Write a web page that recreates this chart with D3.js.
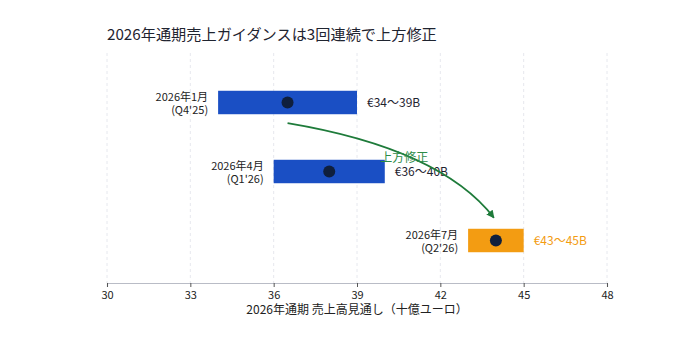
<!DOCTYPE html>
<html>
<head>
<meta charset="utf-8">
<script src="https://cdn.jsdelivr.net/npm/d3@7"></script>
<style>
  body { margin: 0; background: #fff; }
  text { font-family: "Noto Sans CJK JP", "Noto Sans", sans-serif; }
</style>
</head>
<body>
<div id="chart"></div>
<script>
// data
var periods = ["2026年1月", "2026年4月", "2026年7月"];
var quarters = ["(Q4'25)", "(Q1'26)", "(Q2'26)"];
var lows = [34, 36, 43];
var highs = [39, 40, 45];
var mids = [36.5, 38, 44];
var rangeLabels = ["€34～39B", "€36～40B", "€43～45B"];
var xTicks = [30, 33, 36, 39, 42, 45, 48];

var width = 675, height = 337;
var margin = { top: 53, right: 68, bottom: 54, left: 107 };

var svg = d3.select("#chart").append("svg")
  .attr("width", width)
  .attr("height", height);

var x = d3.scaleLinear()
  .domain([30, 48])
  .range([margin.left, width - margin.right]);

var y = d3.scaleBand()
  .domain(periods)
  .range([68, 275])
  .paddingInner(0.66)
  .paddingOuter(0.33);

var axisY = height - margin.bottom;

// title
svg.append("text")
  .attr("x", margin.left)
  .attr("y", 40)
  .attr("font-size", 15.2)
  .attr("fill", "#1f2430")
  .text("2026年通期売上ガイダンスは3回連続で上方修正");

// grid
svg.append("g").selectAll("line")
  .data(xTicks)
  .enter().append("line")
  .attr("x1", function (d) { return x(d); })
  .attr("x2", function (d) { return x(d); })
  .attr("y1", margin.top)
  .attr("y2", axisY)
  .attr("stroke", "#dfe2ea")
  .attr("stroke-width", 0.8)
  .attr("stroke-dasharray", "3,3");

// x axis
var xAxis = d3.axisBottom(x).tickValues(xTicks).tickSize(4).tickPadding(4);
var gx = svg.append("g")
  .attr("transform", "translate(0," + axisY + ")")
  .call(xAxis);
gx.select(".domain").attr("stroke", "#b9bcc6").attr("stroke-width", 1.2);
gx.selectAll(".tick line").attr("stroke", "#555");
gx.selectAll(".tick text")
  .attr("font-size", 11)
  .attr("fill", "#222")
  .attr("font-family", "'Noto Sans CJK JP', sans-serif");

svg.append("text")
  .attr("x", (x(30) + x(48)) / 2)
  .attr("y", 314)
  .attr("text-anchor", "middle")
  .attr("font-size", 12)
  .attr("fill", "#222")
  .text("2026年通期 売上高見通し（十億ユーロ）");

// bars
var rows = periods.map(function (p, i) {
  return { period: p, q: quarters[i], lo: lows[i], hi: highs[i], mid: mids[i], label: rangeLabels[i], last: i === periods.length - 1 };
});

svg.append("g").selectAll("rect")
  .data(rows)
  .enter().append("rect")
  .attr("x", function (d) { return x(d.lo); })
  .attr("width", function (d) { return x(d.hi) - x(d.lo); })
  .attr("y", function (d) { return y(d.period); })
  .attr("height", y.bandwidth())
  .attr("fill", function (d) { return d.last ? "#f39c12" : "#1a4fc4"; });

svg.append("g").selectAll("circle")
  .data(rows)
  .enter().append("circle")
  .attr("cx", function (d) { return x(d.mid); })
  .attr("cy", function (d) { return y(d.period) + y.bandwidth() / 2; })
  .attr("r", 6)
  .attr("fill", "#0f1f3d");

// left labels (two lines, separate text nodes)
var left = svg.append("g").attr("text-anchor", "end").attr("font-size", 11).attr("fill", "#222");
left.selectAll("text.period")
  .data(rows)
  .enter().append("text")
  .attr("class", "period")
  .attr("x", function (d) { return x(d.lo) - 10; })
  .attr("y", function (d) { return y(d.period) + y.bandwidth() / 2 - 2; })
  .text(function (d) { return d.period; });
left.selectAll("text.quarter")
  .data(rows)
  .enter().append("text")
  .attr("class", "quarter")
  .attr("x", function (d) { return x(d.lo) - 10; })
  .attr("y", function (d) { return y(d.period) + y.bandwidth() / 2 + 11; })
  .text(function (d) { return d.q; });

// range labels
svg.append("g").selectAll("text")
  .data(rows)
  .enter().append("text")
  .attr("x", function (d) { return x(d.hi) + 10; })
  .attr("y", function (d) { return y(d.period) + y.bandwidth() / 2; })
  .attr("dy", "0.36em")
  .attr("font-size", 12)
  .attr("fill", function (d) { return d.last ? "#f39c12" : "#1f2430"; })
  .text(function (d) { return d.label; });

// arrow
svg.append("defs").append("marker")
  .attr("id", "arrow")
  .attr("viewBox", "0 0 10 10")
  .attr("refX", 9).attr("refY", 5)
  .attr("markerWidth", 8).attr("markerHeight", 8)
  .attr("markerUnits", "userSpaceOnUse")
  .attr("orient", "auto")
  .append("path")
  .attr("d", "M0,0L10,5L0,10z")
  .attr("fill", "#1e7b3a");

var p0 = [x(mids[0]), y(periods[0]) + y.bandwidth() + 9];
var p2 = [x(mids[2]) - 2, y(periods[2]) - 11];
var c = [x(42), y(periods[1]) - 11];
svg.append("path")
  .attr("d", "M" + p0 + "Q" + c + " " + p2)
  .attr("fill", "none")
  .attr("stroke", "#1e7b3a")
  .attr("stroke-width", 1.8)
  .attr("marker-end", "url(#arrow)");

svg.append("text")
  .attr("x", x(40.7))
  .attr("y", y(periods[1]) + 2)
  .attr("text-anchor", "middle")
  .attr("font-size", 12)
  .attr("fill", "#2e8b47")
  .text("上方修正");
</script>
</body>
</html>
